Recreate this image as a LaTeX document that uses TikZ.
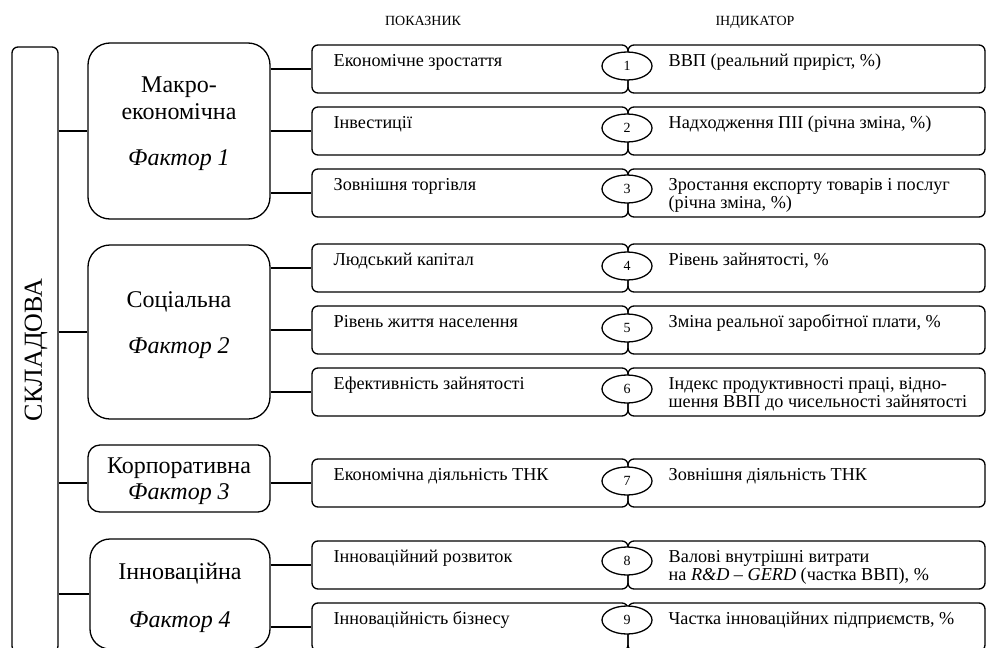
\documentclass[tikz,border=0pt]{standalone}
\usepackage{fontspec}
\setmainfont{Liberation Serif}
\usetikzlibrary{shapes.geometric}
\begin{document}
\begin{tikzpicture}[x=1pt,y=-1pt, line width=1.3pt,
 rowbox/.style={draw, rounded corners=6pt, minimum height=48pt, inner sep=0pt},
 lbox/.style={rowbox, minimum width=316pt},
 rbox/.style={rowbox, minimum width=357pt},
 numel/.style={draw, ellipse, fill=white, minimum width=50pt, minimum height=28pt, inner sep=0pt, font=\fontsize{14}{16}\selectfont},
 fbox/.style={draw, inner sep=0pt},
 rtext/.style={anchor=base west, inner sep=0pt, font=\fontsize{18.2}{20}\selectfont},
 ftext/.style={anchor=base, inner sep=0pt, font=\fontsize{24}{28}\selectfont},
 hdr/.style={anchor=base, inner sep=0pt, font=\fontsize{14}{16}\selectfont},
 conn/.style={draw}
]
\useasboundingbox (0,0) rectangle (986,648);
\clip (0,0) rectangle (986,648);

% headers
\node[hdr] (h1) at (423,25) {ПОКАЗНИК};
\node[hdr] (h2) at (755,25) {ІНДИКАТОР};

% left column
\node[fbox, rounded corners=6pt, minimum width=46pt, minimum height=605pt] (sk) at (35,349.5) {};
\node[inner sep=0pt, rotate=90, font=\fontsize{26}{30}\selectfont] (skt) at (36,350) {СКЛАДОВА};

% factor boxes
\node[fbox, rounded corners=22pt, minimum width=182pt, minimum height=176pt] (f1) at (179,131) {};
\node[fbox, rounded corners=22pt, minimum width=182pt, minimum height=174pt] (f2) at (179,332) {};
\node[fbox, rounded corners=12pt, minimum width=182pt, minimum height=67pt] (f3) at (179,478.5) {};
\node[fbox, rounded corners=20pt, minimum width=180pt, minimum height=110pt] (f4) at (180,594) {};

\node[ftext] (f1a) at (179,92) {Макро-};
\node[ftext] (f1b) at (179,119) {економічна};
\node[ftext] (f1c) at (179,165) {\itshape Фактор 1};
\node[ftext] (f2a) at (179,307) {Соціальна};
\node[ftext] (f2b) at (179,353) {\itshape Фактор 2};
\node[ftext] (f3a) at (179,473) {Корпоративна};
\node[ftext] (f3b) at (179,499) {\itshape Фактор 3};
\node[ftext] (f4a) at (180,579) {Інноваційна};
\node[ftext] (f4b) at (180,627) {\itshape Фактор 4};

% rows: left and right boxes
\foreach \i/\t in {1/45,2/107,3/169,4/244,5/306,6/368,7/459,8/541,9/603}{
  \node[lbox] (p\i) at (470,\t+24) {};
  \node[rbox] (q\i) at (806.5,\t+24) {};
}
% ellipses
\foreach \i/\e in {1/66,2/128,3/189,4/266,5/328,6/389,7/481,8/561,9/620}{
  \node[numel] (n\i) at (627,\e) {\i};
}

% row texts
\node[rtext] (p1t) at (333,66) {Економічне зростаття};
\node[rtext] (p2t) at (333,128) {Інвестиції};
\node[rtext] (p3t) at (333,190) {Зовнішня торгівля};
\node[rtext] (p4t) at (333,265) {Людський капітал};
\node[rtext] (p5t) at (333,327) {Рівень життя населення};
\node[rtext] (p6t) at (333,389) {Ефективність зайнятості};
\node[rtext] (p7t) at (333,480) {Економічна діяльність ТНК};
\node[rtext] (p8t) at (333,562) {Інноваційний розвиток};
\node[rtext] (p9t) at (333,624) {Інноваційність бізнесу};

\node[rtext] (q1t) at (668,66) {ВВП (реальний приріст, \%)};
\node[rtext] (q2t) at (668,128) {Надходження ПІІ (річна зміна, \%)};
\node[rtext] (q3t) at (668,190) {Зростання експорту товарів і послуг};
\node[rtext] (q3u) at (668,208) {(річна зміна, \%)};
\node[rtext] (q4t) at (668,265) {Рівень зайнятості, \%};
\node[rtext] (q5t) at (668,327) {Зміна реальної заробітної плати, \%};
\node[rtext] (q6t) at (668,389) {Індекс продуктивності праці, відно-};
\node[rtext] (q6u) at (668,407) {шення ВВП до чисельності зайнятості};
\node[rtext] (q7t) at (668,480) {Зовнішня діяльність ТНК};
\node[rtext] (q8t) at (668,562) {Валові внутрішні витрати};
\node[rtext] (q8u) at (668,580) {на \textit{R\&D – GERD} (частка ВВП), \%};
\node[rtext] (q9t) at (668,624) {Частка інноваційних підприємств, \%};

% connectors column -> factors
\draw[conn] (f1.west -| sk.east) -- (f1.west);
\draw[conn] (f2.west -| sk.east) -- (f2.west);
\draw[conn] (p7.west -| sk.east) -- (p7.west -| f3.west);
\draw[conn] (f4.west -| sk.east) -- (f4.west);

% connectors factors -> rows
\foreach \f/\r in {f1/1,f1/2,f1/3,f2/4,f2/5,f2/6,f3/7,f4/8,f4/9}{
  \draw[conn] (p\r.west -| \f.east) -- (p\r.west);
}
\end{tikzpicture}
\end{document}
